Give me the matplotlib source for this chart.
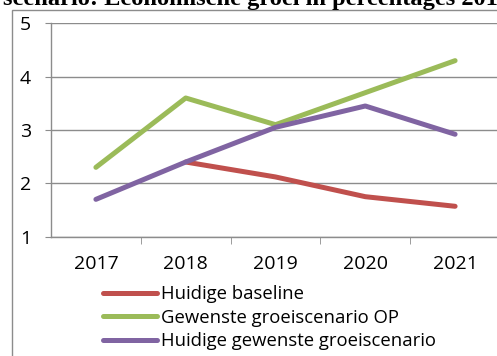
import matplotlib
matplotlib.use("Agg")
import matplotlib.pyplot as plt
from matplotlib.patches import Rectangle

years = ['2017', '2018', '2019', '2020', '2021']
baseline = [None, 2.4, 2.12, 1.75, 1.57]
gewenst_op = [2.3, 3.6, 3.1, 3.7, 4.3]
huidig_gewenst = [1.7, 2.4, 3.05, 3.45, 2.92]
labels = ['Huidige baseline', 'Gewenste groeiscenario OP', 'Huidige gewenste groeiscenario']
colors = ['#C0504D', '#9BBB59', '#8064A2']

W, H = 497, 356
fig = plt.figure(figsize=(W / 100, H / 100), dpi=100)

# gray chart frame (cropped on right / bottom)
fig.patches.append(Rectangle((12 / W, -0.1), 1.2, 1 - 10 / H + 0.1, transform=fig.transFigure,
                             fill=False, edgecolor='#8c8c8c', linewidth=1.0))

# title, cropped at the top like the reference
fig.text(3 / W, 1 - 5 / H, 'scenario: Economische groei in percentages 2017-2021',
         family='Liberation Serif', weight='bold', fontsize=17.6, va='baseline', ha='left')

left, right = 51 / W, 500 / W
bottom, top = 1 - 236.7 / H, 1 - 23.3 / H
ax = fig.add_axes([left, bottom, right - left, top - bottom])

x = list(range(len(years)))
series = [baseline, gewenst_op, huidig_gewenst]
for vals, lab, col in zip(series, labels, colors):
    xs = [i for i, v in zip(x, vals) if v is not None]
    ys = [v for v in vals if v is not None]
    ax.plot(xs, ys, color=col, linewidth=3.6, solid_capstyle='round',
            solid_joinstyle='round', label=lab)

ax.set_xlim(-0.5, len(years) - 0.5)
ax.set_ylim(1, 5)
ax.set_yticks([1, 2, 3, 4, 5])
ax.set_xticks(x)
ax.set_xticklabels(years)
ax.set_xticks([i + 0.5 for i in x[:-1]], minor=True)
ax.grid(axis='y', color='#8c8c8c', linewidth=1.0)
ax.set_axisbelow(True)
for s in ['top', 'right']:
    ax.spines[s].set_visible(False)
for s in ['left', 'bottom']:
    ax.spines[s].set_color('#8c8c8c')
    ax.spines[s].set_linewidth(1.0)
ax.tick_params(axis='x', which='major', length=0, pad=13, labelsize=14, labelfontfamily='Open Sans')
ax.tick_params(axis='x', which='minor', length=5, color='#8c8c8c', direction='out')
ax.tick_params(axis='y', length=4.5, color='#8c8c8c', direction='out', pad=10,
               labelsize=14, labelfontfamily='Open Sans')

ax.legend(loc='upper left', bbox_to_anchor=(103 / W, 1 - 285 / H), bbox_transform=fig.transFigure,
          frameon=False, prop={'family': 'Open Sans', 'size': 13.3}, handlelength=2.9,
          handletextpad=0.25, labelspacing=0.3, borderpad=0, borderaxespad=0)

fig.savefig('out.png', dpi=100)
